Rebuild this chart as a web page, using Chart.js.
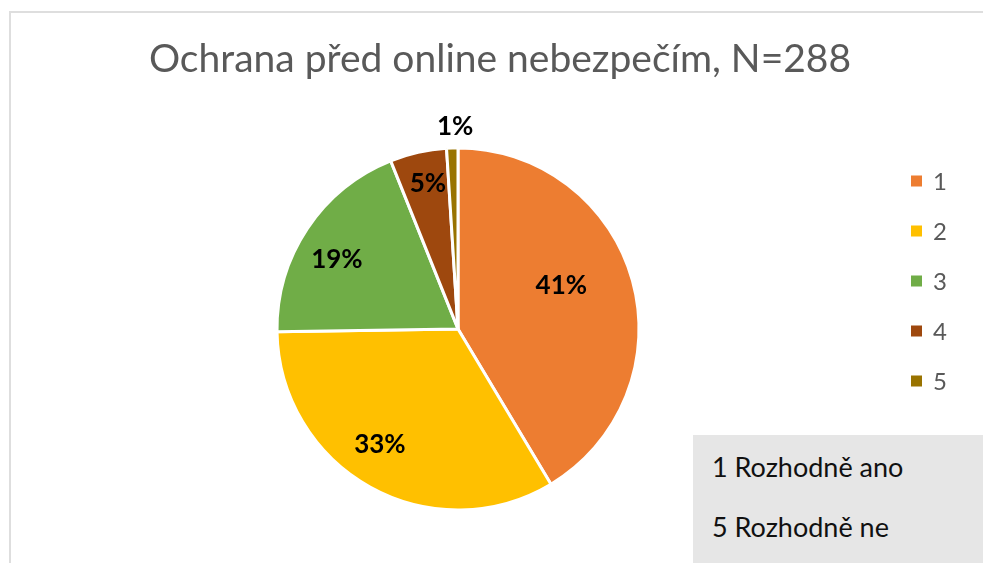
<!DOCTYPE html>
<html lang="cs">
<head>
<meta charset="utf-8">
<title>Ochrana před online nebezpečím</title>
<script src="https://cdn.jsdelivr.net/npm/chart.js@4.4.1/dist/chart.umd.min.js"></script>
<style>
  html, body { margin: 0; padding: 0; background: #fff; overflow: hidden; width: 983px; height: 563px; }
  #frame {
    position: absolute; left: 9px; top: 11px; width: 990px; height: 560px;
    border-left: 2px solid #dedede; border-top: 2px solid #dedede; box-sizing: border-box;
  }
  #pie { position: absolute; left: -2px; top: -2px; }
  #note {
    position: absolute; left: 693px; top: 435px; width: 300px; height: 140px;
    background: #e6e6e6; font-family: Lato, "Open Sans", sans-serif; font-size: 27px; color: #111;
  }
  #note div { position: absolute; left: 19px; white-space: nowrap; line-height: 1; }
</style>
</head>
<body>
<div id="frame"><canvas id="pie" width="982" height="552"></canvas></div>
<div id="note"><div id="n1" style="top:18px"></div><div id="n5" style="top:78px"></div></div>
<script>
// answer scale 1–5 and share of respondents (%) for each answer
const categories = ['1', '2', '3', '4', '5'];
const shares = [41, 33, 19, 5, 1];
const chartTitle = 'Ochrana před online nebezpečím, N=288';
const scaleNotes = ['1 Rozhodně ano', '5 Rozhodně ne'];
const sliceColors = ['#ED7D31', '#FFC000', '#70AD47', '#9E480E', '#997300'];

document.getElementById('n1').textContent = scaleNotes[0];
document.getElementById('n5').textContent = scaleNotes[1];

// reserves a column on the right of the plot and draws the colour key in it
const keyColumn = {
  id: 'keyColumn',
  beforeInit(chart, args, opts) {
    const box = {
      position: 'right', weight: 50, fullSize: false, options: {},
      left: 0, top: 0, right: 0, bottom: 0, width: 0, height: 0,
      isHorizontal() { return false; },
      update(maxWidth, maxHeight) { this.width = opts.width; this.height = maxHeight; },
      draw() {
        const ctx = chart.ctx;
        const ds = chart.data.datasets[0];
        ctx.save();
        ctx.font = opts.fontSize + 'px Lato, "Open Sans", sans-serif';
        ctx.textBaseline = 'middle';
        ctx.textAlign = 'left';
        chart.data.labels.forEach((lab, i) => {
          const y = opts.firstY + i * opts.step;
          const x = this.left + opts.inset;
          ctx.fillStyle = ds.backgroundColor[i];
          ctx.fillRect(x, y - opts.box / 2, opts.box, opts.box);
          ctx.fillStyle = '#595959';
          ctx.fillText(lab, x + opts.box + opts.gap, y + 1);
        });
        ctx.restore();
      }
    };
    Chart.layouts.addBox(chart, box);
  }
};

// percentage labels placed along each slice's bisector
const sliceLabels = {
  id: 'sliceLabels',
  afterDatasetsDraw(chart, args, opts) {
    const meta = chart.getDatasetMeta(0);
    const ctx = chart.ctx;
    ctx.save();
    ctx.font = 'bold ' + opts.fontSize + 'px Lato, "Open Sans", sans-serif';
    ctx.fillStyle = '#000';
    ctx.textAlign = 'center';
    ctx.textBaseline = 'middle';
    meta.data.forEach((arc, i) => {
      const p = arc.getProps(['x', 'y', 'startAngle', 'endAngle', 'outerRadius'], true);
      const place = opts.placement[i];
      const a = (p.startAngle + p.endAngle) / 2 + place.turn * Math.PI / 180;
      const r = p.outerRadius * place.r;
      ctx.fillText(chart.data.datasets[0].data[i] + '%', p.x + r * Math.cos(a), p.y + r * Math.sin(a));
    });
    ctx.restore();
  }
};

new Chart(document.getElementById('pie'), {
  type: 'pie',
  data: {
    labels: categories,
    datasets: [{
      data: shares,
      backgroundColor: sliceColors,
      borderColor: '#ffffff',
      borderWidth: 3,
      radius: 181
    }]
  },
  options: {
    responsive: false,
    animation: false,
    events: [],
    layout: { padding: { left: 0, right: 0, top: 0, bottom: 46 } },
    plugins: {
      legend: { display: false },
      tooltip: { enabled: false },
      title: {
        display: true,
        text: chartTitle,
        color: '#595959',
        font: { family: 'Lato, "Open Sans", sans-serif', size: 39, weight: 'normal', lineHeight: 1.2 },
        padding: { top: 25, bottom: 58 }
      },
      keyColumn: { width: 84, inset: 4, box: 11, gap: 11, fontSize: 24, firstY: 170, step: 50 },
      sliceLabels: {
        fontSize: 26,
        placement: [
          { r: 0.62, turn: -7.5 },
          { r: 0.77, turn: 5 },
          { r: 0.77, turn: -4 },
          { r: 0.82, turn: 1 },
          { r: 1.12, turn: 1 }
        ]
      }
    }
  },
  plugins: [keyColumn, sliceLabels]
});
</script>
</body>
</html>
